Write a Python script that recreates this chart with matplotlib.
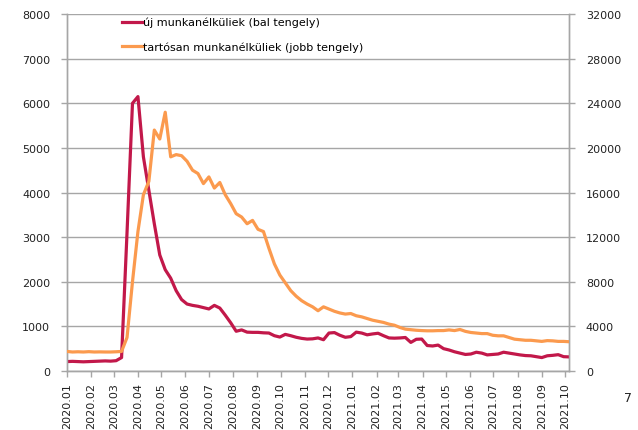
import matplotlib
matplotlib.use('Agg')
import matplotlib.pyplot as plt
import matplotlib.dates as mdates
import pandas as pd
import numpy as np

# weekly data, 2020.01 - 2021.10
start = '2020-01-01'
n_weeks = 93

# új munkanélküliek (bal tengely)
uj = [210, 215, 210, 205, 210, 215, 220, 225, 220, 230,
      300, 3100, 6000, 6150, 4800, 4050, 3300, 2600, 2270, 2080,
      1800, 1600, 1500, 1470, 1450, 1420, 1390, 1470, 1410, 1250,
      1080, 890, 920, 870, 865, 865, 855, 850, 790, 760,
      820, 790, 755, 730, 715, 720, 740, 700, 850, 860,
      800, 755, 770, 870, 850, 810, 830, 845, 790, 740,
      735, 740, 750, 640, 710, 715, 570, 560, 580, 500,
      470, 430, 400, 370, 380, 420, 400, 360, 370, 380,
      420, 400, 380, 360, 345, 340, 320, 300, 340, 350,
      365, 320, 315]

# tartósan munkanélküliek (jobb tengely)
tartos = [1750, 1700, 1720, 1700, 1730, 1700, 1710, 1700, 1700, 1720,
          1750, 3000, 8000, 12500, 15800, 17000, 21600, 20800, 23200, 19200,
          19400, 19300, 18800, 18000, 17700, 16800, 17400, 16400, 16900, 15800,
          15000, 14100, 13800, 13200, 13500, 12700, 12500, 11000, 9600, 8600,
          7900, 7200, 6700, 6300, 6000, 5750, 5400, 5750, 5550, 5350,
          5200, 5100, 5150, 4950, 4850, 4700, 4550, 4450, 4350, 4200,
          4100, 3900, 3750, 3700, 3650, 3620, 3600, 3600, 3620, 3620,
          3680, 3620, 3720, 3550, 3450, 3400, 3350, 3350, 3200, 3150,
          3150, 3000, 2850, 2800, 2750, 2750, 2700, 2650, 2720, 2700,
          2650, 2650, 2620]

label_uj = 'új munkanélküliek (bal tengely)'
label_tartos = 'tartósan munkanélküliek (jobb tengely)'

dates = pd.date_range(start, periods=n_weeks, freq='7D')
months = pd.date_range('2020-01-01', '2021-10-01', freq='MS')

red = '#c2184a'
orange = '#fb9a4e'
gray = '#a6a6a6'

plt.rcParams['font.family'] = 'DejaVu Sans'
fig = plt.figure(figsize=(6.38, 4.31), dpi=100)
ax = fig.add_axes([0.105, 0.137, 0.787, 0.828])
ax2 = ax.twinx()

l1, = ax.plot(dates, uj, color=red, lw=2.3, zorder=3)
l2, = ax2.plot(dates, tartos, color=orange, lw=2.3, zorder=3)

ax.set_xlim(dates[0], dates[-1])
ax.set_ylim(0, 8000)
ax.set_yticks(np.arange(0, 8001, 1000))
ax2.set_ylim(0, 32000)
ax2.set_yticks(np.arange(0, 32001, 4000))

ax.set_xticks(months)
ax.xaxis.set_major_formatter(mdates.DateFormatter('%Y.%m'))
for lab in ax.get_xticklabels():
    lab.set_rotation(90)

ax.grid(axis='y', color=gray, lw=1)
ax.set_axisbelow(True)

for a in (ax, ax2):
    a.spines['top'].set_visible(False)
    for s in ('left', 'right', 'bottom'):
        a.spines[s].set_color(gray)
        a.spines[s].set_linewidth(1)
    a.tick_params(colors=gray, labelcolor='#222222', labelsize=8, length=4, width=1)
ax.tick_params(axis='y', pad=8)
ax2.tick_params(axis='y', pad=8)
ax.tick_params(axis='x', pad=4)

leg = ax2.legend([l1, l2], [label_uj, label_tartos], loc='upper left',
                 bbox_to_anchor=(0.09, 1.02), frameon=False, fontsize=8,
                 handlelength=1.8, handletextpad=0.05, labelspacing=1.25)

fig.text(0.978, 0.076, '7', fontsize=9, color='#222222', ha='left', va='center')

fig.savefig('out.png', dpi=100)
